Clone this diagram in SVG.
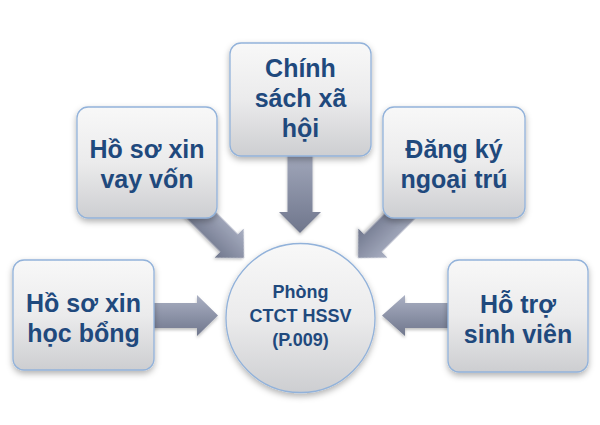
<svg xmlns="http://www.w3.org/2000/svg" width="600" height="425" viewBox="0 0 600 425">
<defs>
<linearGradient id="boxg" x1="0" y1="0" x2="0" y2="1">
<stop offset="0" stop-color="#f8f8f8"/>
<stop offset="0.5" stop-color="#ebebec"/>
<stop offset="1" stop-color="#cdced1"/>
</linearGradient>
<linearGradient id="arrg" x1="0" y1="0" x2="0" y2="1">
<stop offset="0" stop-color="#aab0c3"/>
<stop offset="1" stop-color="#6f768c"/>
</linearGradient>
<filter id="sh" x="-20%" y="-20%" width="140%" height="150%">
<feDropShadow dx="0" dy="3" stdDeviation="3" flood-color="#000" flood-opacity="0.3"/>
</filter>
<filter id="ash" x="-20%" y="-20%" width="140%" height="150%">
<feDropShadow dx="0" dy="2" stdDeviation="1.5" flood-color="#000" flood-opacity="0.25"/>
</filter>
</defs>
<style>
.box{fill:url(#boxg);stroke:#92b2da;stroke-width:1.3;filter:url(#sh)}
.arr{fill:url(#arrg);filter:url(#ash)}
.t{font-family:"Liberation Sans","Noto Sans",sans-serif;font-weight:bold;fill:#1f497d;text-anchor:middle}
.big{font-size:25px}
.small{font-size:18px}
</style>
<rect width="600" height="425" fill="#ffffff"/>
<g id="connectors">
<polygon class="arr" points="140,303 197,303 197,295 218,315.5 197,336 197,328 140,328"/>
<polygon class="arr" points="460,303 405,303 405,295 382,315.5 405,336 405,328 460,328"/>
<polygon class="arr" points="287.5,140 312.5,140 312.5,212 321,212 300,233 279,212 287.5,212"/>
<g transform="translate(244,258) rotate(45)">
<polygon class="arr" points="-85,-12.5 -21,-12.5 -21,-20.5 0,0 -21,20.5 -21,12.5 -85,12.5"/>
</g>
<g transform="translate(358,258) rotate(135)">
<polygon class="arr" points="-85,-12.5 -21,-12.5 -21,-20.5 0,0 -21,20.5 -21,12.5 -85,12.5"/>
</g>
</g>
<g id="node-hocbong">
<rect class="box" x="13" y="260" width="141" height="110" rx="11"/>
<text class="t big" x="83.5" y="312">Hồ sơ xin</text>
<text class="t big" x="83.5" y="342">học bổng</text>
</g>
<g id="node-vayvon">
<rect class="box" x="77" y="107" width="140" height="111" rx="11"/>
<text class="t big" x="147" y="158">Hồ sơ xin</text>
<text class="t big" x="147" y="188">vay vốn</text>
</g>
<g id="node-chinhsach">
<rect class="box" x="230" y="43" width="141" height="113" rx="11"/>
<text class="t big" x="300.5" y="77">Chính</text>
<text class="t big" x="300.5" y="107">sách xã</text>
<text class="t big" x="300.5" y="137">hội</text>
</g>
<g id="node-dangky">
<rect class="box" x="383" y="107" width="142" height="111" rx="11"/>
<text class="t big" x="454" y="158">Đăng ký</text>
<text class="t big" x="454" y="188">ngoại trú</text>
</g>
<g id="node-hotro">
<rect class="box" x="448" y="260" width="140" height="112" rx="11"/>
<text class="t big" x="518" y="313">Hỗ trợ</text>
<text class="t big" x="518" y="343">sinh viên</text>
</g>
<g id="node-center">
<circle class="box" cx="300.5" cy="318" r="74.5"/>
<text class="t small" x="300.5" y="298">Phòng</text>
<text class="t small" x="300.5" y="322">CTCT HSSV</text>
<text class="t small" x="300.5" y="346">(P.009)</text>
</g>
</svg>
